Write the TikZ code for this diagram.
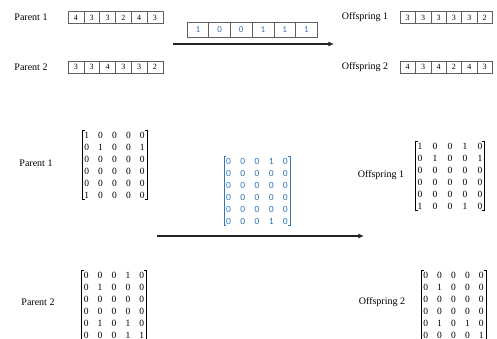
\documentclass[tikz,border=0pt]{standalone}
\usepackage{fontspec}
\setmainfont{Liberation Serif}
\newfontfamily\maskfont{Carlito}
\usetikzlibrary{arrows.meta, matrix}

\definecolor{maskblue}{RGB}{50,120,185}
\definecolor{cellgray}{RGB}{95,95,95}

% square brackets round a matrix node
\newcommand{\matbrackets}[2][black]{%
  \draw[bracketline, draw=#1] ([xshift=2.5pt]#2.north west) -| (#2.south west) -- ([xshift=2.5pt]#2.south west);
  \draw[bracketline, draw=#1] ([xshift=-2.5pt]#2.north east) -| (#2.south east) -- ([xshift=-2.5pt]#2.south east);
}

\begin{document}
\begin{tikzpicture}[
    x=1pt, y=-1pt,
    rowname/.style={inner sep=0pt, font=\fontsize{10}{12}\selectfont},
    cell/.style={rectangle, draw=cellgray, line width=0.5pt, minimum width=15.8pt, minimum height=12pt, inner sep=0pt, font=\fontsize{8}{9}\selectfont},
    kidcell/.style={cell, minimum width=15.4pt},
    maskcell/.style={cell, minimum width=21.7pt, minimum height=14.5pt, text=maskblue, font=\maskfont\fontsize{9}{10}\selectfont},
    bitmat/.style={matrix of nodes, inner xsep=0pt, inner ysep=1pt, column sep=4.9pt, row sep=5pt,
        nodes={minimum width=9pt, minimum height=7pt, inner sep=0pt, font=\fontsize{9.5}{9}\selectfont}},
    maskmat/.style={bitmat, column sep=5.2pt, nodes={minimum width=9pt, minimum height=7pt, inner sep=0pt, text=maskblue, font=\maskfont\fontsize{9.5}{9}\selectfont}},
    bracketline/.style={line width=0.6pt},
    arrow/.style={-{Latex[length=2mm, width=1.8mm]}, line width=1.1pt, black!85}
]
\useasboundingbox (0,0) rectangle (497,338);
\clip (0,0) rectangle (497,338);

% Integer coding
\node[rowname] (ip1) at (31,17.5) {Parent 1};
\node[rowname] (ip2) at (31,67) {Parent 2};
\node[rowname] (io1) at (365,17.5) {Offspring 1};
\node[rowname] (io2) at (365,67) {Offspring 2};

\foreach \v [count=\i] in {4,3,3,2,4,3}
  \node[cell] (pa\i) at ({68+15.8*(\i-0.5)},17.5) {\v};
\foreach \v [count=\i] in {3,3,4,3,3,2}
  \node[cell] (pb\i) at ({68+15.8*(\i-0.5)},67) {\v};
\foreach \v [count=\i] in {3,3,3,3,3,2}
  \node[kidcell] (oa\i) at ({400+15.4*(\i-0.5)},17.5) {\v};
\foreach \v [count=\i] in {4,3,4,2,4,3}
  \node[kidcell] (ob\i) at ({400+15.4*(\i-0.5)},67) {\v};
\foreach \v [count=\i] in {1,0,0,1,1,1}
  \node[maskcell] (mk\i) at ({187+21.7*(\i-0.5)},29.5) {\v};

\coordinate (ta-s) at (173,44);
\coordinate (ta-e) at (334,44);
\draw[arrow] (ta-s) -- (ta-e);

% Binary matrix coding
\node[rowname] (mp1) at (36,163.5) {Parent 1};
\node[rowname] (mp2) at (38,302) {Parent 2};
\node[rowname] (mo1) at (381,175) {Offspring 1};
\node[rowname] (mo2) at (382,302) {Offspring 2};

\matrix[bitmat] (ma) at (114.5,165) {
  1 & 0 & 0 & 0 & 0 \\
  0 & 1 & 0 & 0 & 1 \\
  0 & 0 & 0 & 0 & 0 \\
  0 & 0 & 0 & 0 & 0 \\
  0 & 0 & 0 & 0 & 0 \\
  1 & 0 & 0 & 0 & 0 \\
};
\matrix[maskmat] (mm) at (257,191) {
  0 & 0 & 0 & 1 & 0 \\
  0 & 0 & 0 & 0 & 0 \\
  0 & 0 & 0 & 0 & 0 \\
  0 & 0 & 0 & 0 & 0 \\
  0 & 0 & 0 & 0 & 0 \\
  0 & 0 & 0 & 1 & 0 \\
};
\matrix[bitmat, column sep=6pt] (mc) at (450,176) {
  1 & 0 & 0 & 1 & 0 \\
  0 & 1 & 0 & 0 & 1 \\
  0 & 0 & 0 & 0 & 0 \\
  0 & 0 & 0 & 0 & 0 \\
  0 & 0 & 0 & 0 & 0 \\
  1 & 0 & 0 & 1 & 0 \\
};
\matrix[bitmat] (mb) at (114,305) {
  0 & 0 & 0 & 1 & 0 \\
  0 & 1 & 0 & 0 & 0 \\
  0 & 0 & 0 & 0 & 0 \\
  0 & 0 & 0 & 0 & 0 \\
  0 & 1 & 0 & 1 & 0 \\
  0 & 0 & 0 & 1 & 1 \\
};
\matrix[bitmat] (md) at (453.5,305) {
  0 & 0 & 0 & 0 & 0 \\
  0 & 1 & 0 & 0 & 0 \\
  0 & 0 & 0 & 0 & 0 \\
  0 & 0 & 0 & 0 & 0 \\
  0 & 1 & 0 & 1 & 0 \\
  0 & 0 & 0 & 0 & 1 \\
};
\matbrackets{ma}
\matbrackets[maskblue]{mm}
\matbrackets{mc}
\matbrackets{mb}
\matbrackets{md}

\coordinate (ba-s) at (157,236);
\coordinate (ba-e) at (364,236);
\draw[arrow] (ba-s) -- (ba-e);

\end{tikzpicture}
\end{document}
